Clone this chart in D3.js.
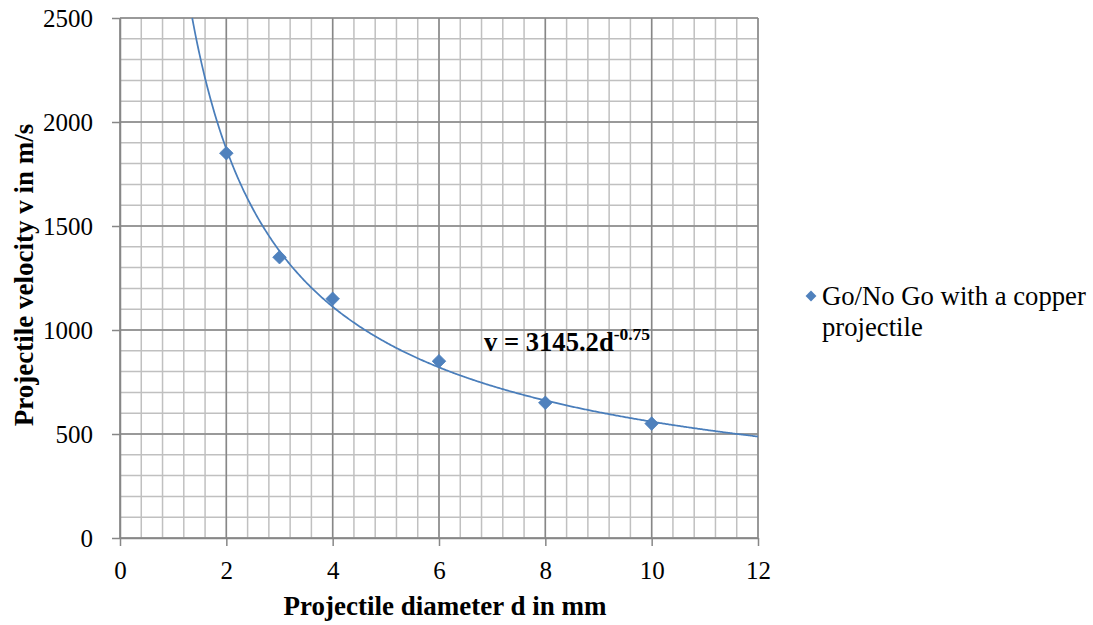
<!DOCTYPE html>
<html>
<head>
<meta charset="utf-8">
<script src="https://cdn.jsdelivr.net/npm/d3@7"></script>
<style>
  body { margin: 0; background: #fff; }
  svg text, svg tspan { font-family: "Liberation Serif", "Times New Roman", Times, serif !important; fill: #000; }
</style>
</head>
<body>
<svg id="chart" width="1093" height="625" font-family="Liberation Serif"></svg>
<script>
// Measured go/no-go points (diameter in mm, velocity in m/s)
const diameters = [2, 3, 4, 6, 8, 10];
const velocities = [1850, 1350, 1150, 850, 650, 550];
// Power-law fit v = a * d^b
const fitA = 3145.2;
const fitB = -0.75;
const xTicks = [0, 2, 4, 6, 8, 10, 12];
const yTicks = [0, 500, 1000, 1500, 2000, 2500];
const seriesName = ["Go/No Go with a copper", "projectile"];

const svg = d3.select("#chart");
const plotL = 120, plotR = 758, plotT = 18, plotB = 538;

const x = d3.scaleLinear().domain([0, 12]).range([plotL, plotR]);
const y = d3.scaleLinear().domain([0, 2500]).range([plotB, plotT]);

// minor grid
const grid = svg.append("g");
const xMinor = d3.range(0, 12.0001, 0.4);
const yMinor = d3.range(0, 2500.1, 100);
grid.selectAll(".vm").data(xMinor).join("line")
  .attr("x1", d => x(d)).attr("x2", d => x(d)).attr("y1", plotT).attr("y2", plotB)
  .attr("stroke", "#c0c0c0").attr("stroke-width", 1.5);
grid.selectAll(".hm").data(yMinor).join("line")
  .attr("x1", plotL).attr("x2", plotR).attr("y1", d => y(d)).attr("y2", d => y(d))
  .attr("stroke", "#c0c0c0").attr("stroke-width", 1.5);
// major grid
grid.selectAll(".vM").data(xTicks).join("line")
  .attr("x1", d => x(d)).attr("x2", d => x(d)).attr("y1", plotT).attr("y2", plotB)
  .attr("stroke", "#878787").attr("stroke-width", 1.5);
grid.selectAll(".hM").data(yTicks).join("line")
  .attr("x1", plotL).attr("x2", plotR).attr("y1", d => y(d)).attr("y2", d => y(d))
  .attr("stroke", "#878787").attr("stroke-width", 1.5);

// axes
const fmt = d3.format("d");
const xAxis = svg.append("g").attr("transform", `translate(0,${plotB})`)
  .call(d3.axisBottom(x).tickValues(xTicks).tickFormat(fmt).tickSize(8).tickPadding(15).tickSizeOuter(0));
const yAxis = svg.append("g").attr("transform", `translate(${plotL},0)`)
  .call(d3.axisLeft(y).tickValues(yTicks).tickFormat(fmt).tickSize(8).tickPadding(19).tickSizeOuter(0));
[xAxis, yAxis].forEach(g => {
  g.attr("font-family", "Liberation Serif");
  g.select(".domain").attr("stroke", "#878787").attr("stroke-width", 1.5);
  g.selectAll(".tick line").attr("stroke", "#878787").attr("stroke-width", 1.5);
  g.selectAll(".tick text").attr("font-size", 25).attr("fill", "#000");
});
yAxis.selectAll(".tick text").attr("dy", "0.35em");

// fitted curve
const dStart = Math.pow(2500 / fitA, 1 / fitB);
const curveX = d3.range(dStart, 12.0001, 0.02);
svg.append("path")
  .datum(curveX)
  .attr("fill", "none").attr("stroke", "#4a7ebb").attr("stroke-width", 1.75)
  .attr("d", d3.line().x(d => x(d)).y(d => y(fitA * Math.pow(d, fitB))));

// markers
const diamond = d3.symbol().type(d3.symbolDiamond2).size(118);
svg.append("g").selectAll("path").data(diameters).join("path")
  .attr("d", diamond)
  .attr("transform", (d, i) => `translate(${x(d)},${y(velocities[i])})`)
  .attr("fill", "#4f81bd").attr("stroke", "#4a7ebb").attr("stroke-width", 0.75);

// equation label
const eq = svg.append("text").attr("x", 484).attr("y", 351)
  .attr("font-size", 26.6).attr("font-weight", "bold");
eq.append("tspan").text(`v = ${fitA}d`);
eq.append("tspan").attr("font-size", 17.5).attr("dy", -11).text(`${fitB}`);

// axis titles
svg.append("text").attr("x", 445).attr("y", 615).attr("text-anchor", "middle")
  .attr("font-size", 27).attr("font-weight", "bold").text("Projectile diameter d in mm");
svg.append("text").attr("transform", `translate(33,275) rotate(-90)`)
  .attr("text-anchor", "middle").attr("font-size", 27).attr("font-weight", "bold")
  .text("Projectile velocity v in m/s");

// legend
svg.append("path").attr("d", d3.symbol().type(d3.symbolDiamond2).size(75)())
  .attr("transform", "translate(811,296)").attr("fill", "#4f81bd");
svg.append("text").attr("x", 822).attr("y", 305).attr("font-size", 26.7)
  .selectAll("tspan").data(seriesName).join("tspan")
  .attr("x", 822).attr("dy", (d, i) => i === 0 ? 0 : 31).text(d => d);
</script>
</body>
</html>
